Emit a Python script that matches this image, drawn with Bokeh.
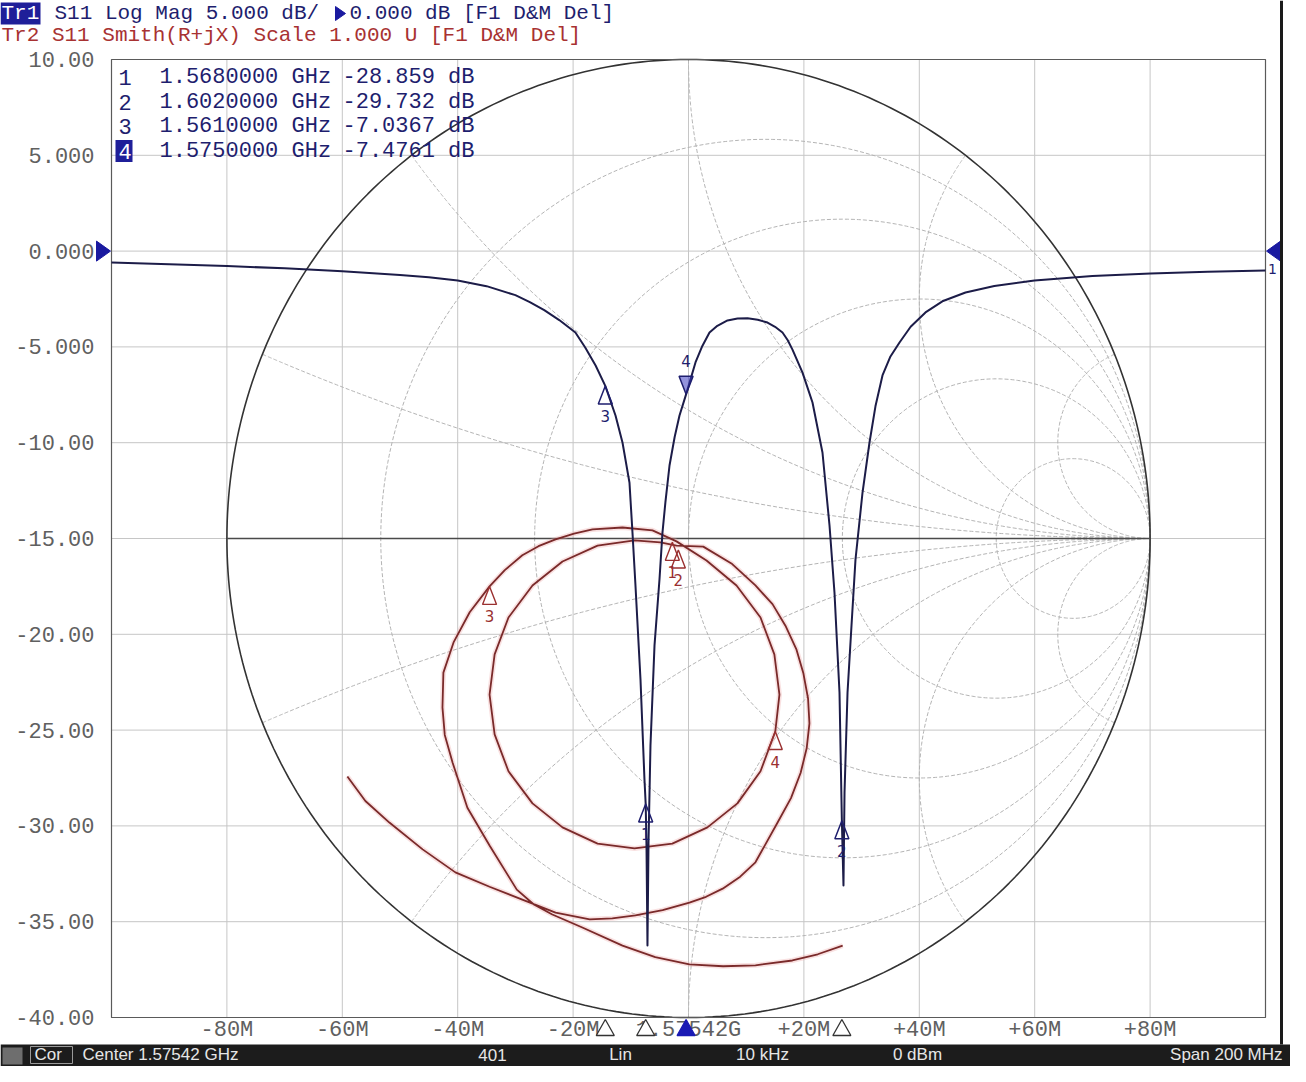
import numpy as np
from bokeh.plotting import figure
from bokeh.models import Range1d
from bokeh.core.properties import value
from bokeh.embed import file_html
from bokeh.resources import INLINE

# ---------------- data ----------------
CENTER_GHZ = 1.57542
x_tick_mhz = [-100, -80, -60, -40, -20, 0, 20, 40, 60, 80, 100]
x_tick_labels = ["", "-80M", "-60M", "-40M", "-20M", "1.57542G", "+20M", "+40M", "+60M", "+80M", ""]
y_tick_db = [10, 5, 0, -5, -10, -15, -20, -25, -30, -35, -40]
y_tick_labels = ["10.00", "5.000", "0.000", "-5.000", "-10.00", "-15.00",
                 "-20.00", "-25.00", "-30.00", "-35.00", "-40.00"]
ref_level_db = 0.0

# Tr1: S11 log magnitude (offset from center in MHz, dB)
tr1_offset_mhz = [-100.0, -90.0, -80.0, -70.0, -60.0, -50.0, -45.0, -40.0, -35.0, -30.0,
                  -27.5, -25.0, -22.4, -19.6, -17.9, -16.1, -14.42, -12.65, -11.44, -10.23,
                  -9.71, -9.19, -8.32, -7.63, -7.42, -7.28, -7.11, -6.93, -6.59, -5.89,
                  -5.03, -4.51, -4.0, -3.29, -2.4, -1.56, -0.42, 1.21, 2.4, 3.64,
                  5.0, 6.76, 8.5, 10.23, 12.0, 13.69, 15.0, 16.29, 17.2, 18.02,
                  19.76, 21.49, 23.22, 24.44, 25.30, 26.17, 26.58, 26.86, 27.04, 27.56,
                  28.25, 28.94, 30.16, 31.37, 32.4, 33.62, 35.0, 36.57, 38.5, 41.07,
                  44.0, 48.01, 53.0, 59.97, 70.0, 80.07, 90.0, 100.0]
tr1_db = [-0.60, -0.68, -0.78, -0.90, -1.05, -1.25, -1.37, -1.53, -1.83, -2.30,
          -2.66, -3.08, -3.60, -4.25, -5.03, -5.97, -7.0367, -8.58, -9.99, -12.08,
          -14.69, -17.45, -22.36, -27.58, -28.859, -31.02, -36.24, -30.87, -25.80, -20.58,
          -17.14, -14.69, -13.10, -11.19, -9.70, -8.58, -7.4761, -5.81, -4.95, -4.25,
          -3.90, -3.62, -3.52, -3.50, -3.58, -3.73, -3.95, -4.25, -4.65, -5.14,
          -6.34, -7.90, -10.51, -14.32, -17.82, -23.04, -29.732, -33.11, -28.26, -23.04,
          -19.54, -16.10, -12.60, -9.99, -8.10, -6.49, -5.50, -4.77, -3.95, -3.20,
          -2.62, -2.16, -1.82, -1.53, -1.30, -1.17, -1.08, -1.01]

# Tr2: S11 reflection coefficient (real, imaginary) for the Smith chart
tr2_re = [0.334, 0.280, 0.225, 0.145, 0.075, 0.002, -0.072, -0.143, -0.230, -0.295,
          -0.335, -0.372, -0.431, -0.479, -0.511, -0.528, -0.533, -0.531, -0.509, -0.474,
          -0.431, -0.398, -0.360, -0.325, -0.288, -0.248, -0.208, -0.143, -0.078, -0.026,
          0.039, 0.104, 0.156, 0.186, 0.197, 0.188, 0.156, 0.106, 0.041, -0.035,
          -0.117, -0.197, -0.273, -0.338, -0.390, -0.420, -0.431, -0.420, -0.390, -0.338,
          -0.273, -0.197, -0.117, -0.061, -0.026,
          0.032, 0.093, 0.145, 0.182, 0.210, 0.234, 0.249, 0.259, 0.262, 0.256,
          0.243, 0.222, 0.193, 0.145, 0.112, 0.074, 0.038, 0.002, -0.056, -0.115,
          -0.165, -0.214, -0.288, -0.360, -0.431, -0.505, -0.576, -0.648, -0.700, -0.739]
tr2_im = [-0.850, -0.868, -0.881, -0.891, -0.893, -0.889, -0.874, -0.850, -0.812, -0.785,
          -0.764, -0.733, -0.641, -0.562, -0.468, -0.410, -0.353, -0.280, -0.217, -0.154,
          -0.100, -0.066, -0.035, -0.016, -0.002, 0.010, 0.019, 0.023, 0.017, -0.006,
          -0.046, -0.098, -0.165, -0.242, -0.326, -0.403, -0.486, -0.553, -0.603, -0.637,
          -0.647, -0.637, -0.603, -0.553, -0.486, -0.409, -0.326, -0.242, -0.165, -0.098,
          -0.048, -0.015, -0.004, -0.008, -0.015,
          -0.017, -0.052, -0.098, -0.137, -0.182, -0.232, -0.282, -0.334, -0.386, -0.438,
          -0.489, -0.542, -0.593, -0.676, -0.706, -0.731, -0.748, -0.760, -0.776, -0.787,
          -0.793, -0.795, -0.781, -0.754, -0.727, -0.697, -0.649, -0.593, -0.548, -0.497]

marker_ids = ["1", "2", "3", "4"]
marker_ghz = [1.568, 1.602, 1.561, 1.575]
marker_db = [-28.859, -29.732, -7.0367, -7.4761]
marker_db_text = ["-28.859 dB", "-29.732 dB", "-7.0367 dB", "-7.4761 dB"]
marker_re = [-0.035, -0.022, -0.431, 0.188]
marker_im = [-0.008, -0.024, -0.100, -0.403]
active_marker = "4"

smith_r_circles = [0.2, 0.5, 1.0, 2.0, 5.0]
smith_x_arcs = [0.2, 0.5, 1.0, 2.0, 5.0]

header1_a = "S11 Log Mag 5.000 dB/"
header1_b = "0.000 dB [F1 D&M Del]"
header2 = "Tr2 S11 Smith(R+jX) Scale 1.000 U [F1 D&M Del]"
status_labels = ["Cor", "Center 1.57542 GHz", "401", "Lin", "10 kHz", "0 dBm", "Span 200 MHz"]

# ---------------- layout ----------------
W, H = 1290, 1066
OFF = 8
L, R, T, B = 119, 1273, 67, 1025
PPM = (R - L) / 200.0
PPD = (B - T) / 50.0
x0 = -100 - (L - OFF) / PPM
x1 = x0 + W / PPM
y1 = 10 + (T - OFF) / PPD
y0 = y1 - H / PPD


def X(px):
    return -100 + (px - L) / PPM


def Y(py):
    return 10 - (py - T) / PPD


def dX(px):
    return px / PPM


def dY(py):
    return py / PPD


SCX, SCY, SRX, SRY = 0.0, -15.0, 80.0, 25.0


def smith_xy(re, im):
    return SCX + SRX * np.asarray(re, dtype=float), SCY + SRY * np.asarray(im, dtype=float)


MONO = value("Liberation Mono")
SANS = value("DejaVu Sans")
BAR = value("Liberation Sans")
NAVY = "#1e1e6e"
RED = "#a83232"
GRID = "#c6c6c6"

p = figure(width=W, height=H, x_range=Range1d(x0, x1), y_range=Range1d(y0, y1),
           output_backend="svg", toolbar_location=None,
           x_axis_location=None, y_axis_location=None, min_border=0, title=None)
p.outline_line_color = None
p.background_fill_color = "white"
p.border_fill_color = "white"
p.grid.visible = False

# rectangular grid
nx, ny = len(x_tick_mhz), len(y_tick_db)
p.segment(x0=x_tick_mhz, y0=[-40] * nx, x1=x_tick_mhz, y1=[10] * nx, line_color=GRID, line_width=1)
p.segment(x0=[-100] * ny, y0=y_tick_db, x1=[100] * ny, y1=y_tick_db, line_color=GRID, line_width=1)

# Smith grid
theta = np.linspace(0, 2 * np.pi, 361)
gxs, gys = [], []
for r in smith_r_circles:
    c = r / (1 + r)
    rad = 1 / (1 + r)
    a, b = smith_xy(c + rad * np.cos(theta), rad * np.sin(theta))
    gxs.append(a.tolist())
    gys.append(b.tolist())
rr = np.concatenate([[0.0], np.logspace(-3, 4, 500)])
for xv in smith_x_arcs:
    for s in (1, -1):
        z = rr + 1j * s * xv
        g = (z - 1) / (z + 1)
        a, b = smith_xy(g.real, g.imag)
        gxs.append(a.tolist())
        gys.append(b.tolist())
p.multi_line(gxs, gys, line_color="#b4b4b4", line_width=1, line_dash="4 2")

# unit circle and real axis
ux, uy = smith_xy(np.cos(theta), np.sin(theta))
p.line(ux, uy, line_color="#333333", line_width=1.6)
p.segment(x0=[SCX - SRX], y0=[SCY], x1=[SCX + SRX], y1=[SCY], line_color="#4a4a4a", line_width=1.4)

# chart frame
p.quad(left=[-100], right=[100], bottom=[-40], top=[10], fill_color=None,
       line_color="#5a5a5a", line_width=1.2)

# Tr2 Smith trace
sx, sy = smith_xy(tr2_re, tr2_im)
p.line(sx, sy, line_color="#eeaaaa", line_width=5, line_alpha=0.35, line_join="round")
p.line(sx, sy, line_color="#7a2a2a", line_width=1.8, line_join="round")

# Tr1 log mag trace
p.line(tr1_offset_mhz, tr1_db, line_color="#1c1c48", line_width=2, line_join="round")

# markers on Tr1
moff = [(g - CENTER_GHZ) * 1000.0 for g in marker_ghz]
hw, th = dX(7), dY(18)
for mid, mx, my in zip(marker_ids, moff, marker_db):
    if mid == active_marker:
        p.patch([mx, mx - hw, mx + hw], [my, my + th, my + th], fill_color="#3a3ac0",
                fill_alpha=0.55, line_color=NAVY, line_width=1.5)
        p.text([mx], [my + dY(33)], text=[mid], text_font=SANS, text_font_size="15px",
               text_color=NAVY, text_align="center", text_baseline="middle")
    else:
        p.patch([mx, mx - hw, mx + hw], [my, my - th, my - th], fill_color=None,
                line_color=NAVY, line_width=1.5)
        p.text([mx], [my - dY(30)], text=[mid], text_font=SANS, text_font_size="15px",
               text_color=NAVY, text_align="center", text_baseline="middle")

# markers on Tr2
mxs, mys = smith_xy(marker_re, marker_im)
for mid, mx, my in zip(marker_ids, mxs, mys):
    p.patch([mx, mx - hw, mx + hw], [my, my - th, my - th], fill_color=None,
            line_color="#9a3030", line_width=1.4)
    p.text([mx], [my - dY(30)], text=[mid], text_font=SANS, text_font_size="15px",
           text_color="#9a3030", text_align="center", text_baseline="middle")

# tick labels
p.text([X(102)] * ny, y_tick_db, text=y_tick_labels, text_font=MONO, text_font_size="22px",
       text_color="#606060", text_align="right", text_baseline="middle")
p.text(x_tick_mhz, [Y(1038)] * nx, text=x_tick_labels, text_font=MONO, text_font_size="22px",
       text_color="#606060", text_align="center", text_baseline="middle")

# marker indicators on the frequency axis
for mid, mx in zip(marker_ids, moff):
    fill = "#1a1ab4" if mid == active_marker else "white"
    lc = "#1a1ab4" if mid == active_marker else "#333333"
    p.patch([mx, mx - dX(9), mx + dX(9)], [Y(1027), Y(1043), Y(1043)], fill_color=fill,
            line_color=lc, line_width=1.3)

# reference level arrows
p.patch([X(118), X(104), X(104)], [ref_level_db, ref_level_db + dY(10), ref_level_db - dY(10)],
        fill_color="#1a1aa0", line_color="#1a1aa0")
p.patch([X(1274), X(1288), X(1288)], [ref_level_db, ref_level_db + dY(10), ref_level_db - dY(10)],
        fill_color="#1a1aa0", line_color="#1a1aa0")
p.text([X(1280)], [ref_level_db - dY(18)], text=["1"], text_font=SANS, text_font_size="14px",
       text_color=NAVY, text_align="center", text_baseline="middle")

# marker readout table
row_y = [Y(85), Y(109.5), Y(134), Y(158.5)]
for mid, yy in zip(marker_ids, row_y):
    if mid == active_marker:
        p.quad(left=[X(123)], right=[X(140)], top=[yy + dY(11)], bottom=[yy - dY(11)],
               fill_color="#1f1f99", line_color=None)
p.text([X(126)] * 4, row_y, text=marker_ids, text_font=MONO, text_font_size="22px",
       text_color=["white" if m == active_marker else NAVY for m in marker_ids],
       text_align="left", text_baseline="middle")
p.text([X(167)] * 4, row_y, text=[f"{g:.7f} GHz" for g in marker_ghz], text_font=MONO,
       text_font_size="22px", text_color=NAVY, text_align="left", text_baseline="middle")
p.text([X(350)] * 4, row_y, text=marker_db_text, text_font=MONO, text_font_size="22px",
       text_color=NAVY, text_align="left", text_baseline="middle")

# header lines
HY1, HY2 = 21, 43
p.quad(left=[X(8)], right=[X(48)], top=[Y(HY1 - 11)], bottom=[Y(HY1 + 11)], fill_color="#1f1f99",
       line_color=None)
p.text([X(9)], [Y(HY1)], text=["Tr1"], text_font=MONO, text_font_size="21px", text_color="white",
       text_align="left", text_baseline="middle")
p.text([X(62)], [Y(HY1)], text=[header1_a], text_font=MONO, text_font_size="21px", text_color=NAVY,
       text_align="left", text_baseline="middle")
p.patch([X(343), X(343), X(353)], [Y(HY1 - 7), Y(HY1 + 7), Y(HY1)], fill_color="#1a1aa0",
        line_color="#1a1aa0")
p.text([X(357)], [Y(HY1)], text=[header1_b], text_font=MONO, text_font_size="21px", text_color=NAVY,
       text_align="left", text_baseline="middle")
p.text([X(9)], [Y(HY2)], text=[header2], text_font=MONO, text_font_size="21px", text_color=RED,
       text_align="left", text_baseline="middle")

# window border right
p.segment(x0=[X(1289)], y0=[Y(8)], x1=[X(1289)], y1=[Y(1052)], line_color="#1a1a1a", line_width=3)

# status bar
p.quad(left=[X(8)], right=[X(1306)], top=[Y(1052)], bottom=[Y(1090)], fill_color="#1c1c1c",
       line_color=None)
p.quad(left=[X(10)], right=[X(30)], top=[Y(1055)], bottom=[Y(1072)], fill_color="#6e6e6e",
       line_color=None)
p.quad(left=[X(38)], right=[X(80)], top=[Y(1054)], bottom=[Y(1071)], fill_color=None,
       line_color="#9a9a9a", line_width=1)
status_x = [X(42), X(90), X(500), X(628), X(770), X(925), X(1290)]
status_align = ["left", "left", "center", "center", "center", "center", "right"]
p.text(status_x, [Y(1062)] * len(status_labels), text=status_labels, text_font=BAR,
       text_font_size="17px", text_color="#e6e6e6", text_align=status_align, text_baseline="middle")

open("out.html", "w").write(file_html(p, INLINE))
